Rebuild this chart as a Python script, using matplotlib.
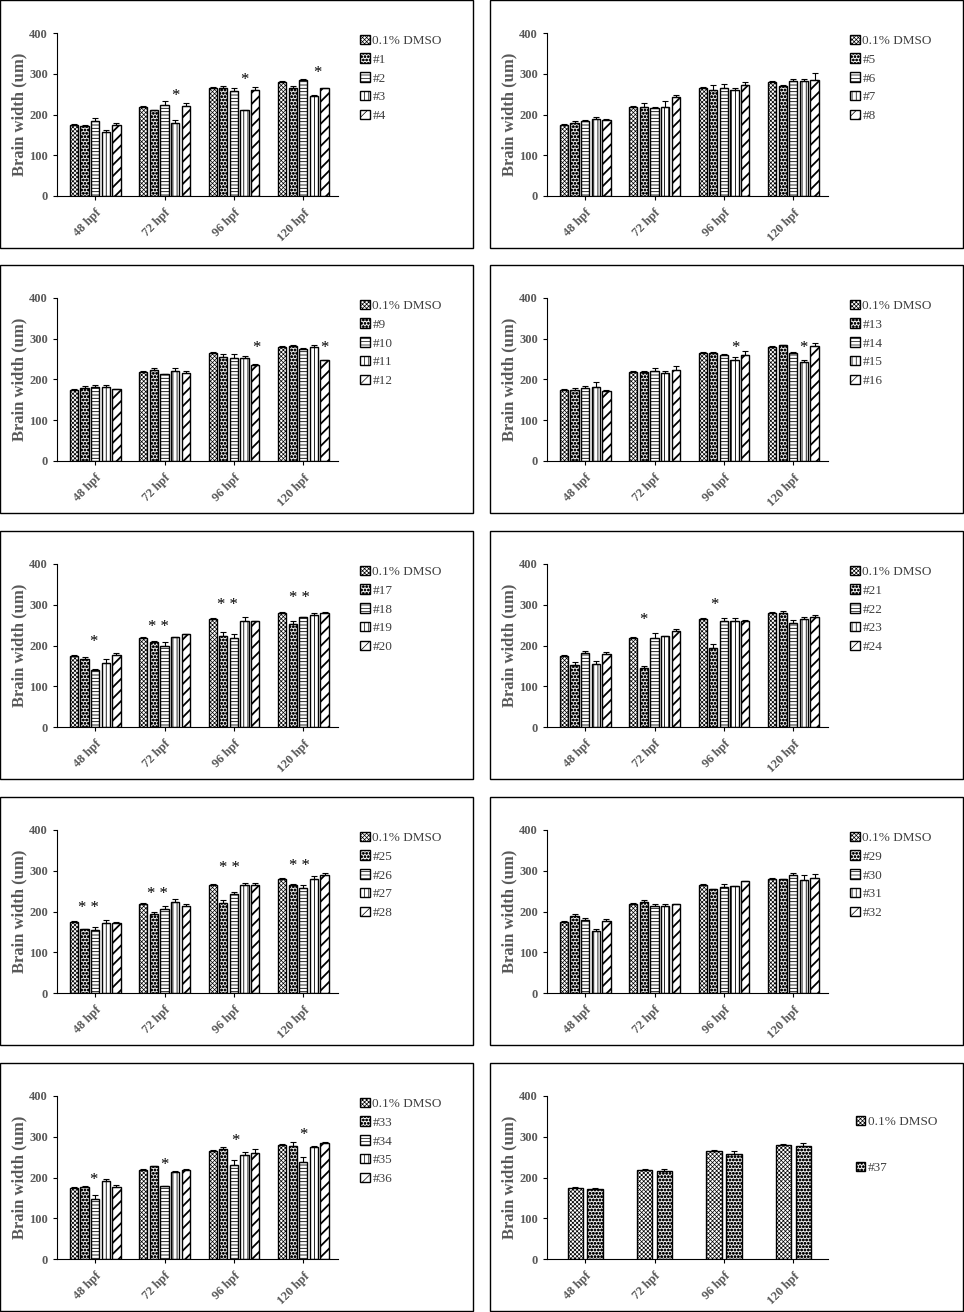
import matplotlib
matplotlib.use('Agg')
import matplotlib.pyplot as plt
import matplotlib.hatch as mhatch
from matplotlib.patches import Rectangle
import numpy as np

plt.rcParams['font.family'] = 'Liberation Serif'
plt.rcParams['hatch.linewidth'] = 0.6
plt.rcParams['legend.handlelength'] = 0.7
plt.rcParams['legend.handleheight'] = 0.7
plt.rcParams['legend.handletextpad'] = 0.2
plt.rcParams['legend.borderpad'] = 0
plt.rcParams['legend.borderaxespad'] = 0


# bigger filled dots for the '.' hatch, so it reads like the checker fill
class CheckerDots(mhatch.SmallFilledCircles):
    size = 0.3


mhatch._hatch_types[mhatch._hatch_types.index(mhatch.SmallFilledCircles)] = CheckerDots

# ── Data ─────────────────────────────────────────────────────────────────────
TIMES = ['48 hpf', '72 hpf', '96 hpf', '120 hpf']
DMSO = [174, 219, 266, 280]
DMSO_ERR = [2, 2, 2, 1]

LABELS_1 = ['#1', '#2', '#3', '#4']
MEAN_1 = [[173, 210, 266, 264], [184, 224, 257, 284],
          [157, 180, 210, 246], [174, 220, 260, 264]]
ERR_1 = [[1, 1, 5, 6], [8, 8, 8, 2], [6, 7, 2, 1], [5, 7, 7, 2]]
STARS_1 = [(1.16, 256, '*'), (2.15, 293, '*'), (3.2, 311, '*')]

LABELS_2 = ['#5', '#6', '#7', '#8']
MEAN_2 = [[180, 219, 261, 271], [185, 217, 266, 282],
          [188, 219, 259, 282], [187, 242, 273, 285]]
ERR_2 = [[5, 8, 12, 2], [2, 1, 8, 4], [5, 13, 5, 4], [1, 5, 6, 16]]
STARS_2 = []

LABELS_3 = ['#9', '#10', '#11', '#12']
MEAN_3 = [[180, 223, 255, 283], [182, 213, 252, 275],
          [182, 222, 252, 280], [176, 217, 235, 247]]
ERR_3 = [[5, 4, 7, 1], [5, 1, 10, 2], [5, 7, 5, 5], [1, 5, 4, 1]]
STARS_3 = [(2.33, 287, '*'), (3.31, 287, '*')]

LABELS_4 = ['#13', '#14', '#15', '#16']
MEAN_4 = [[174, 219, 266, 285], [178, 220, 261, 266],
          [182, 215, 249, 242], [173, 224, 261, 282]]
ERR_4 = [[4, 2, 1, 0.5], [7, 7, 2, 1], [11, 5, 6, 5], [1, 8, 8, 7]]
STARS_4 = [(2.17, 287, '*'), (3.14, 287, '*')]

LABELS_5 = ['#17', '#18', '#19', '#20']
MEAN_5 = [[168, 209, 223, 252], [141, 199, 218, 269],
          [158, 221, 261, 274], [177, 227, 260, 280]]
ERR_5 = [[4, 1, 10, 8], [1, 10, 10, 1], [8, 1, 8, 5], [4, 0.5, 1, 1]]
STARS_5 = [(-0.03, 218, '*'), (0.91, 255, '* *'),
           (1.91, 310, '* *'), (2.94, 326, '* *')]

LABELS_6 = ['#21', '#22', '#23', '#24']
MEAN_6 = [[151, 145, 193, 279], [181, 219, 260, 256],
          [155, 223, 261, 265], [179, 236, 260, 269]]
ERR_6 = [[8, 5, 10, 6], [5, 11, 7, 6], [8, 1, 6, 6], [5, 5, 2, 6]]
STARS_6 = [(0.84, 271, '*'), (1.86, 310, '*')]

LABELS_7 = ['#25', '#26', '#27', '#28']
MEAN_7 = [[157, 193, 221, 266], [155, 206, 243, 257],
          [172, 224, 266, 280], [172, 214, 266, 290]]
ERR_7 = [[1, 7, 7, 1], [8, 8, 5, 7], [7, 6, 5, 7], [2, 5, 5, 5]]
STARS_7 = [(-0.10, 217, '* *'), (0.9, 252, '* *'),
           (1.94, 316, '* *'), (2.94, 320, '* *')]

LABELS_8 = ['#29', '#30', '#31', '#32']
MEAN_8 = [[188, 224, 254, 279], [180, 214, 260, 290],
          [153, 213, 262, 277], [177, 219, 274, 281]]
ERR_8 = [[5, 5, 0.5, 1], [5, 5, 8, 5], [5, 5, 1, 12], [5, 0.5, 2, 12]]
STARS_8 = []

LABELS_9 = ['#33', '#34', '#35', '#36']
MEAN_9 = [[177, 227, 270, 277], [147, 178, 231, 237],
          [191, 214, 256, 276], [176, 219, 261, 285]]
ERR_9 = [[1, 1, 6, 11], [9, 1, 12, 14], [5, 1, 6, 0.5], [5, 1, 10, 1]]
STARS_9 = [(-0.02, 203, '*'), (1.0, 241, '*'), (2.02, 299, '*'), (3.0, 314, '*')]

LABELS_10 = ['#37']
MEAN_10 = [[173, 215, 258, 277]]
ERR_10 = [[1, 7, 7, 7]]
STARS_10 = []

PANELS = [
    (LABELS_1, MEAN_1, ERR_1, STARS_1), (LABELS_2, MEAN_2, ERR_2, STARS_2),
    (LABELS_3, MEAN_3, ERR_3, STARS_3), (LABELS_4, MEAN_4, ERR_4, STARS_4),
    (LABELS_5, MEAN_5, ERR_5, STARS_5), (LABELS_6, MEAN_6, ERR_6, STARS_6),
    (LABELS_7, MEAN_7, ERR_7, STARS_7), (LABELS_8, MEAN_8, ERR_8, STARS_8),
    (LABELS_9, MEAN_9, ERR_9, STARS_9), (LABELS_10, MEAN_10, ERR_10, STARS_10),
]

# ── Style ────────────────────────────────────────────────────────────────────
W, H = 964, 1312
ROW_TOP = [0, 265, 531, 797, 1063]
HATCHES = ['xxxxxxxx', '.....', '-----', '||||', '///']
HATCH_LW = [0.5, 0.6, 0.6, 0.6, 1.3]
GREY = '#595959'
STAR_FS = 12

fig = plt.figure(figsize=(W / 100, H / 100), dpi=100)


def draw_panel(k, labels, means, errs, stars):
    x0 = 0 if k % 2 == 0 else 490
    y0 = ROW_TOP[k // 2]

    fig.patches.append(Rectangle((x0 / W, 1 - (y0 + 248) / H), 473 / W, 248 / H,
                                 transform=fig.transFigure, fill=False,
                                 edgecolor='black', linewidth=1))

    ax = fig.add_axes([(x0 + 57) / W, 1 - (y0 + 196) / H, 281 / W, 163 / H])

    names = ['0.1% DMSO'] + labels
    values = [DMSO] + means
    errors = [DMSO_ERR] + errs
    n = len(values)
    width, step = (0.12, 0.153) if n == 5 else (0.22, 0.287)
    x = np.arange(len(TIMES))

    for i, (name, v, e) in enumerate(zip(names, values, errors)):
        pos = x + (i - (n - 1) / 2) * step
        bars = ax.bar(pos, v, width, yerr=[np.zeros(len(v)), e], color='white',
                      edgecolor='black', linewidth=1, hatch=HATCHES[i],
                      label=name,
                      error_kw=dict(elinewidth=0.8, capsize=2.5, capthick=0.8,
                                    ecolor='black'))
        for b in bars:
            if hasattr(b, 'set_hatch_linewidth'):
                b.set_hatch_linewidth(HATCH_LW[i])

    for sx, sy, s in stars:
        ax.annotate(s, (sx, sy), xytext=(0, -0.47 * STAR_FS),
                    textcoords='offset points', ha='center', va='baseline',
                    fontsize=STAR_FS, color='black')

    ax.set_xlim(-0.55, 3.5)
    ax.set_ylim(0, 400)
    ax.set_yticks([0, 100, 200, 300, 400])
    ax.set_xticks(x)
    ax.set_xticklabels(TIMES, rotation=45, ha='right', va='top',
                       rotation_mode='anchor')
    ax.tick_params(axis='both', colors='black', labelcolor=GREY,
                   labelsize=9, length=3, width=0.8, direction='out')
    ax.tick_params(axis='x', pad=5)
    for lab in ax.get_xticklabels() + ax.get_yticklabels():
        lab.set_fontweight('bold')
    ax.spines['top'].set_visible(False)
    ax.spines['right'].set_visible(False)
    ax.spines['left'].set_linewidth(0.8)
    ax.spines['bottom'].set_linewidth(0.8)

    ax.set_ylabel('Brain width (um)', fontsize=12, fontweight='bold',
                  color=GREY)
    ax.yaxis.set_label_coords(-0.105, 0.5)

    if n == 5:
        leg = ax.legend(loc='upper left', bbox_to_anchor=(1.08, 0.99),
                        labelspacing=0.5, prop={'size': 9.5})
    else:
        leg = ax.legend(loc='upper left', bbox_to_anchor=(1.10, 0.88),
                        labelspacing=2.6, prop={'size': 9.5})
    leg.set_frame_on(False)
    for t in leg.get_texts():
        t.set_color('#404040')
    for p in leg.get_patches():
        if hasattr(p, 'set_hatch_linewidth'):
            p.set_hatch_linewidth(0.5)


for k, (labels, means, errs, stars) in enumerate(PANELS):
    draw_panel(k, labels, means, errs, stars)

fig.savefig('out.png', dpi=100, facecolor='white')
